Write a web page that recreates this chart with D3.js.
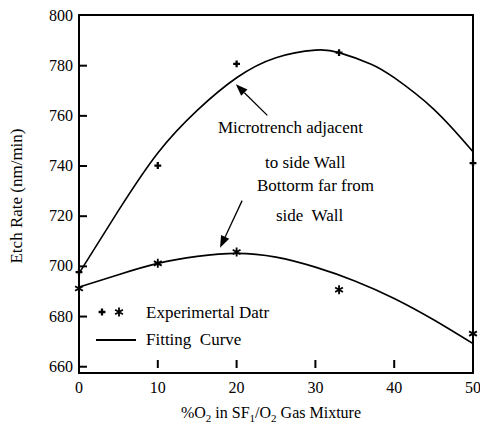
<!DOCTYPE html>
<html>
<head>
<meta charset="utf-8">
<script src="https://cdn.jsdelivr.net/npm/d3@7"></script>
<style>
  body { margin: 0; background: #fff; }
  svg { display: block; font-family: "Liberation Serif", "DejaVu Serif", serif; }
</style>
</head>
<body>
<div id="chart"></div>
<script>
// x ticks and y ticks
var xTicks = [0, 10, 20, 30, 40, 50];
var yTicks = [660, 680, 700, 720, 740, 760, 780, 800];

// experimental points
var pctO2 = [0, 10, 20, 33, 50];
var microtrenchRate = [697.5, 740, 780.5, 785, 741];
var bottomRate = [691, 701, 705.5, 690.5, 673];

// fitting curves
var fitX = [0, 5, 10, 15, 20, 25, 30, 33, 37, 40, 45, 50];
var microtrenchFit = [697, 722, 745, 762, 775, 783, 786, 785, 780.5, 775, 762.5, 745.5];
var bottomFitX = [0, 5, 10, 15, 20, 25, 30, 35, 40, 45, 50];
var bottomFit = [691.5, 696.5, 701, 703.8, 705, 703.5, 699.5, 694, 687, 678.5, 669];

var width = 480, height = 427;
var margin = {top: 15, right: 7, bottom: 54, left: 79};
var innerWidth = width - margin.left - margin.right;
var innerHeight = height - margin.top - margin.bottom;

var svg = d3.select("#chart").append("svg")
    .attr("width", width)
    .attr("height", height);
var g = svg.append("g")
    .attr("transform", "translate(" + margin.left + "," + margin.top + ")");

var xScale = d3.scaleLinear().domain([0, 50]).range([0, innerWidth]);
// 660 sits a little above the bottom axis line
var yScale = d3.scaleLinear().domain([657.3, 800]).range([innerHeight, 0]);

// y axis: inward ticks from the axis, labels drawn as plain text
var yAxis = g.append("g")
    .call(d3.axisLeft(yScale).tickValues(yTicks.filter(function(d) { return d < 800; }))
        .tickSizeInner(-8).tickSizeOuter(0).tickFormat(""));
yAxis.select(".domain").remove();
yAxis.selectAll(".tick line").attr("stroke", "#000").attr("stroke-width", 2);

g.append("g").selectAll("text")
    .data(yTicks)
    .enter().append("text")
    .attr("x", -6)
    .attr("y", function(d) { return yScale(d) + 5.5; })
    .attr("text-anchor", "end")
    .attr("font-size", 16)
    .attr("fill", "#000")
    .text(function(d) { return d; });

// x labels under the axis
g.append("g").selectAll("text")
    .data(xTicks)
    .enter().append("text")
    .attr("x", function(d) { return xScale(d); })
    .attr("y", innerHeight + 20)
    .attr("text-anchor", "middle")
    .attr("font-size", 16)
    .attr("fill", "#000")
    .text(function(d) { return d; });

// x tick marks floating just above the axis line
g.append("g").selectAll("line")
    .data(xTicks.filter(function(d) { return d > 0 && d < 50; }))
    .enter().append("line")
    .attr("x1", function(d) { return xScale(d); })
    .attr("x2", function(d) { return xScale(d); })
    .attr("y1", innerHeight - 13)
    .attr("y2", innerHeight - 5)
    .attr("stroke", "#000")
    .attr("stroke-width", 2);

// frame
g.append("rect")
    .attr("x", 0).attr("y", 0)
    .attr("width", innerWidth).attr("height", innerHeight)
    .attr("fill", "none").attr("stroke", "#000").attr("stroke-width", 2);

// fitting curves
var line = d3.line()
    .x(function(d) { return xScale(d[0]); })
    .y(function(d) { return yScale(d[1]); })
    .curve(d3.curveNatural);

g.append("path")
    .datum(d3.zip(fitX, microtrenchFit))
    .attr("d", line)
    .attr("fill", "none").attr("stroke", "#000").attr("stroke-width", 1.6);
g.append("path")
    .datum(d3.zip(bottomFitX, bottomFit))
    .attr("d", line)
    .attr("fill", "none").attr("stroke", "#000").attr("stroke-width", 1.6);

// marker shapes
var dotPath = d3.symbol().type(d3.symbolCross).size(26)();
function asteriskPath(r) {
    var p = "";
    [90, 30, 150].forEach(function(a) {
        var rad = a * Math.PI / 180;
        var dx = r * Math.cos(rad), dy = r * Math.sin(rad);
        p += "M" + (-dx) + "," + (-dy) + "L" + dx + "," + dy;
    });
    return p;
}

g.append("g").selectAll("path")
    .data(d3.zip(pctO2, microtrenchRate))
    .enter().append("path")
    .attr("transform", function(d) { return "translate(" + xScale(d[0]) + "," + yScale(d[1]) + ")"; })
    .attr("d", dotPath)
    .attr("fill", "#000");

g.append("g").selectAll("path")
    .data(d3.zip(pctO2, bottomRate))
    .enter().append("path")
    .attr("transform", function(d) { return "translate(" + xScale(d[0]) + "," + yScale(d[1]) + ")"; })
    .attr("d", asteriskPath(4.5))
    .attr("fill", "none")
    .attr("stroke", "#000")
    .attr("stroke-width", 1.8);

// annotations
var annoFont = 17;
var notes = [
    {text: "Microtrench adjacent", x: 139, y: 118},
    {text: "to side Wall", x: 186, y: 153},
    {text: "Bottorm far from", x: 178, y: 176},
    {text: "side  Wall", x: 197, y: 206}
];
g.append("g").selectAll("text")
    .data(notes)
    .enter().append("text")
    .attr("x", function(d) { return d.x; })
    .attr("y", function(d) { return d.y; })
    .attr("font-size", annoFont)
    .attr("fill", "#000")
    .style("white-space", "pre")
    .text(function(d) { return d.text; });

// arrows, in data units
var arrows = [
    {from: [23.9, 760], to: [19.9, 772.4]},
    {from: [20.7, 726], to: [17.9, 707.2]}
];
arrows.forEach(function(a) {
    var x1 = xScale(a.from[0]), y1 = yScale(a.from[1]);
    var x2 = xScale(a.to[0]), y2 = yScale(a.to[1]);
    var ang = Math.atan2(y2 - y1, x2 - x1);
    var len = 12, half = 4.5;
    var bx = x2 - len * Math.cos(ang), by = y2 - len * Math.sin(ang);
    g.append("line")
        .attr("x1", x1).attr("y1", y1).attr("x2", bx).attr("y2", by)
        .attr("stroke", "#000").attr("stroke-width", 1.3);
    g.append("path")
        .attr("d", "M" + x2 + "," + y2 +
            "L" + (bx + half * Math.sin(ang)) + "," + (by - half * Math.cos(ang)) +
            "L" + (bx - half * Math.sin(ang)) + "," + (by + half * Math.cos(ang)) + "Z")
        .attr("fill", "#000");
});

// legend
var legend = g.append("g");
legend.append("path")
    .attr("transform", "translate(23,297)")
    .attr("d", dotPath).attr("fill", "#000");
legend.append("path")
    .attr("transform", "translate(40,297)")
    .attr("d", asteriskPath(4.5))
    .attr("fill", "none").attr("stroke", "#000").attr("stroke-width", 1.8);
legend.append("text")
    .attr("x", 67).attr("y", 303)
    .attr("font-size", annoFont).attr("fill", "#000")
    .text("Experimertal Datr");
legend.append("line")
    .attr("x1", 17).attr("x2", 57).attr("y1", 325).attr("y2", 325)
    .attr("stroke", "#000").attr("stroke-width", 2);
legend.append("text")
    .attr("x", 67).attr("y", 330)
    .attr("font-size", annoFont).attr("fill", "#000")
    .style("white-space", "pre")
    .text("Fitting  Curve");

// axis titles
svg.append("text")
    .attr("transform", "translate(22,196) rotate(-90)")
    .attr("text-anchor", "middle")
    .attr("font-size", 17)
    .attr("fill", "#000")
    .text("Etch Rate (nm/min)");

var xTitle = svg.append("text")
    .attr("x", 271).attr("y", 418)
    .attr("text-anchor", "middle")
    .attr("font-size", 16)
    .attr("fill", "#000");
xTitle.append("tspan").text("%O");
xTitle.append("tspan").attr("font-size", 11).attr("dy", 4).text("2");
xTitle.append("tspan").attr("dy", -4).text(" in SF");
xTitle.append("tspan").attr("font-size", 11).attr("dy", 4).text("1");
xTitle.append("tspan").attr("dy", -4).text("/O");
xTitle.append("tspan").attr("font-size", 11).attr("dy", 4).text("2");
xTitle.append("tspan").attr("dy", -4).text(" Gas Mixture");
</script>
</body>
</html>
